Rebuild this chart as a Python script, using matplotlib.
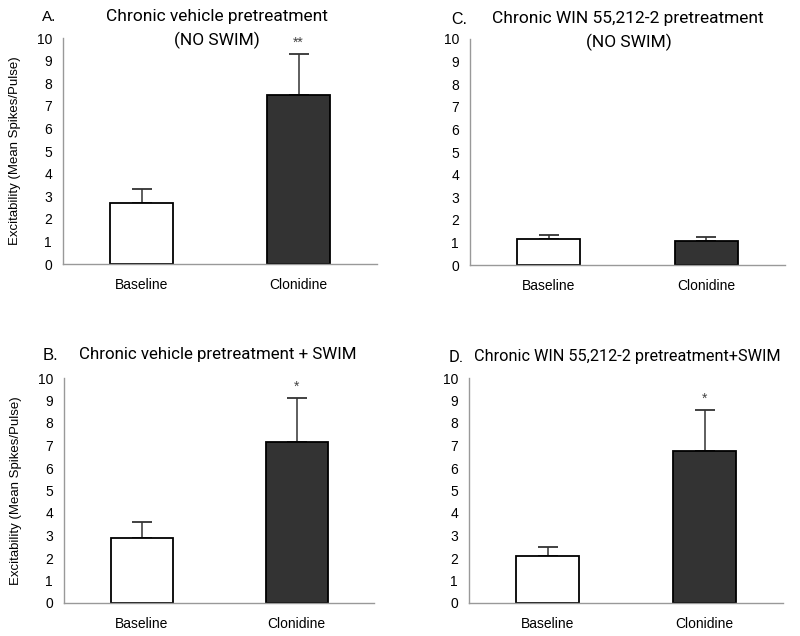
import matplotlib.pyplot as plt

# Mean excitability (spikes/pulse) and SEM
groups = ['Baseline', 'Clonidine']
vehicle_noswim = [2.7, 7.5]
vehicle_noswim_err = [0.6, 1.8]
win_noswim = [1.17, 1.05]
win_noswim_err = [0.16, 0.2]
vehicle_swim = [2.9, 7.15]
vehicle_swim_err = [0.72, 1.97]
win_swim = [2.1, 6.75]
win_swim_err = [0.4, 1.83]
stars = ['**', '', '*', '*']

plt.rcParams['font.family'] = ['Liberation Sans', 'DejaVu Sans']
title_font = 'Roboto'

fig = plt.figure(figsize=(8, 6.36), dpi=100)

# panel boxes in pixels: left, right, bottom (y=0), top (y=10)
boxes = [(63, 377, 264, 38), (470, 785, 265, 39), (64, 374, 603, 378), (469, 783, 603, 378)]
panels = [(vehicle_noswim, vehicle_noswim_err), (win_noswim, win_noswim_err),
          (vehicle_swim, vehicle_swim_err), (win_swim, win_swim_err)]

W, H = 800, 636
for i, ((l, r, b, t), (vals, errs)) in enumerate(zip(boxes, panels)):
    ax = fig.add_axes([l / W, 1 - b / H, (r - l) / W, (b - t) / H])
    x = range(len(groups))
    ax.bar(x, vals, width=0.4, color=['white', '#333333'], edgecolor='black', linewidth=1.3, zorder=2)
    ax.errorbar(x, vals, yerr=[[0, 0], errs], fmt='none', ecolor='#333333', elinewidth=1.1,
                capsize=7, capthick=1.3, zorder=1)
    if stars[i]:
        ax.text(1, vals[1] + errs[1] + 0.2, stars[i], ha='center', va='bottom', fontsize=10, color='#444444')
    ax.set_xlim(-0.5, 1.5)
    ax.set_ylim(0, 10)
    ax.set_yticks(range(0, 11))
    ax.set_xticks(list(x))
    ax.set_xticklabels(groups)
    ax.tick_params(axis='both', length=0, labelsize=10)
    ax.tick_params(axis='y', pad=8)
    ax.tick_params(axis='x', pad=10)
    for s in ['top', 'right']:
        ax.spines[s].set_visible(False)
    for s in ['left', 'bottom']:
        ax.spines[s].set_color('#999999')
        ax.spines[s].set_linewidth(1.0)
    if i in (0, 2):
        ax.set_ylabel('Excitability (Mean Spikes/Pulse)', fontsize=9.5)
        ax.yaxis.set_label_coords(-0.135, 0.5)

def ftext(px, py, s, fam=title_font, size=12.5, **kw):
    fig.text(px / W, 1 - py / H, s, family=fam, fontsize=size, va='center', **kw)

ftext(42, 17, 'A.', fam='Liberation Sans', size=11)
ftext(217, 17, 'Chronic vehicle pretreatment', ha='center')
ftext(217, 40, '(NO SWIM)', ha='center')
ftext(451, 19, 'C.', fam='Liberation Sans', size=11.5)
ftext(628, 19, 'Chronic WIN 55,212-2 pretreatment', ha='center')
ftext(629, 42, '(NO SWIM)', ha='center')
ftext(43, 355, 'B.', fam='Liberation Sans', size=12)
ftext(218, 355, 'Chronic vehicle pretreatment + SWIM', ha='center', size=12.2)
ftext(449, 357, 'D.', size=12)
ftext(627, 357, 'Chronic WIN 55,212-2 pretreatment+SWIM', ha='center', size=11.7)

plt.savefig('out.png', dpi=100)
